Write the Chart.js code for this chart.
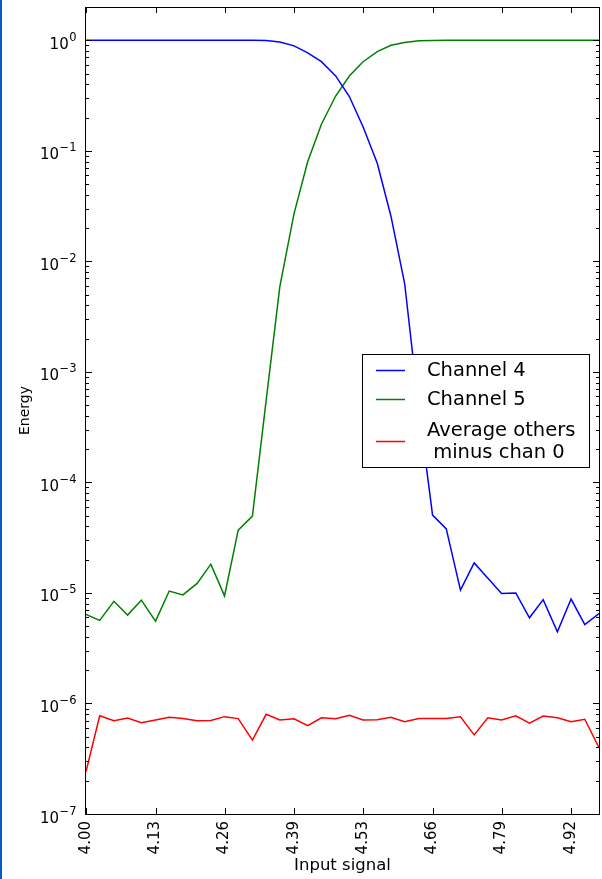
<!DOCTYPE html>
<html>
<head>
<meta charset="utf-8">
<script src="https://cdn.jsdelivr.net/npm/chart.js@4/dist/chart.umd.min.js"></script>
<style>
  html, body { margin: 0; padding: 0; background: #fff; }
  #wrap { position: relative; width: 602px; height: 879px; }
  #edge { position: absolute; left: 0; top: 0; width: 2px; height: 879px; background: #0b57c8; }
</style>
</head>
<body>
<div id="wrap">
  <canvas id="energyChart" width="602" height="879"></canvas>
  <div id="edge"></div>
</div>
<script>
// input signal values (x), one per sample
const inputSignal = [4.000, 4.026, 4.053, 4.079, 4.105, 4.132, 4.158, 4.184, 4.211, 4.237,
    4.263, 4.289, 4.316, 4.342, 4.368, 4.395, 4.421, 4.447, 4.474, 4.500,
    4.526, 4.553, 4.579, 4.605, 4.632, 4.658, 4.684, 4.711, 4.737, 4.763,
    4.789, 4.816, 4.842, 4.868, 4.895, 4.921, 4.947, 4.974];

const channel4 = [1.0, 1.0, 1.0, 1.0, 1.0, 1.0, 1.0, 1.0, 1.0, 1.0,
    1.0, 1.0, 0.999, 0.995, 0.966, 0.89, 0.77, 0.64, 0.476, 0.31,
    0.165, 0.077, 0.0256, 0.0063, 4.6e-4, 5.06e-5, 3.8e-5, 1.06e-5, 1.87e-5, 1.36e-5,
    9.9e-6, 1.0e-5, 5.96e-6, 8.7e-6, 4.45e-6, 8.8e-6, 5.18e-6, 6.5e-6];

const channel5 = [6.4e-6, 5.65e-6, 8.4e-6, 6.3e-6, 8.6e-6, 5.56e-6, 1.04e-5, 9.6e-6, 1.22e-5, 1.82e-5,
    9.4e-6, 3.7e-5, 4.95e-5, 5.5e-4, 5.9e-3, 0.027, 0.080, 0.174, 0.313, 0.475,
    0.64, 0.79, 0.90, 0.955, 0.99, 0.997, 1.0, 1.0, 1.0, 1.0,
    1.0, 1.0, 1.0, 1.0, 1.0, 1.0, 1.0, 1.0];

const avgOthers = [2.42e-7, 7.74e-7, 6.98e-7, 7.38e-7, 6.7e-7, 7.08e-7, 7.5e-7, 7.3e-7, 6.98e-7, 7.0e-7,
    7.6e-7, 7.3e-7, 4.66e-7, 7.98e-7, 7.08e-7, 7.27e-7, 6.3e-7, 7.43e-7, 7.28e-7, 7.8e-7,
    7.08e-7, 7.13e-7, 7.5e-7, 6.84e-7, 7.3e-7, 7.3e-7, 7.3e-7, 7.57e-7, 5.2e-7, 7.43e-7,
    7.08e-7, 7.74e-7, 6.65e-7, 7.7e-7, 7.43e-7, 6.84e-7, 7.2e-7, 3.98e-7];

const xTickValues = [4.000, 4.132, 4.263, 4.395, 4.526, 4.658, 4.789, 4.921];
const xTickLabels = ["4.00", "4.13", "4.26", "4.39", "4.53", "4.66", "4.79", "4.92"];
const yTickValues = [1e-7, 1e-6, 1e-5, 1e-4, 1e-3, 1e-2, 1e-1, 1e0];

const seriesLabels = [["Channel 4"], ["Channel 5"], ["Average others", " minus chan 0"]];
const seriesColors = ["#0000ff", "#008000", "#ff0000"];

const FONT = "'DejaVu Sans', 'Liberation Sans', sans-serif";
Chart.defaults.font.family = FONT;
Chart.defaults.color = "#000";

function toPoints(values) {
    return inputSignal.map((x, i) => ({x: x, y: values[i]}));
}

// frame, inward ticks, 10^n labels and the legend box
const framePlugin = {
    id: "frame",
    afterDatasetsDraw(chart) {
        const {ctx, chartArea: a, scales: {x, y}} = chart;
        ctx.save();
        ctx.strokeStyle = "#000";
        ctx.lineWidth = 1;
        ctx.beginPath();
        xTickValues.forEach(v => {
            const px = Math.round(x.getPixelForValue(v)) + 0.5;
            ctx.moveTo(px, a.bottom); ctx.lineTo(px, a.bottom - 6);
            ctx.moveTo(px, a.top); ctx.lineTo(px, a.top + 6);
        });
        for (let e = -7; e <= 0; e++) {
            for (let m = 1; m <= 9; m++) {
                const v = m * Math.pow(10, e);
                if (v > y.max) break;
                const py = Math.round(y.getPixelForValue(v)) + 0.5;
                const len = m === 1 ? 6 : 3;
                ctx.moveTo(a.left, py); ctx.lineTo(a.left + len, py);
                ctx.moveTo(a.right, py); ctx.lineTo(a.right - len, py);
            }
        }
        ctx.stroke();
        ctx.strokeRect(Math.round(a.left) - 0.5, Math.round(a.top) + 0.5,
            Math.round(a.right - a.left) + 1, Math.round(a.bottom - a.top));

        // y tick labels as 10 with a raised exponent
        ctx.fillStyle = "#000";
        ctx.textBaseline = "alphabetic";
        ctx.textAlign = "left";
        yTickValues.forEach(v => {
            const py = y.getPixelForValue(v);
            const exp = String(Math.round(Math.log10(v))).replace("-", "\u2212");
            ctx.font = "15px " + FONT;
            const wb = ctx.measureText("10").width;
            ctx.font = "11.5px " + FONT;
            const we = ctx.measureText(exp).width;
            const x0 = a.left - 10 - wb - we;
            ctx.font = "15px " + FONT;
            ctx.fillText("10", x0, py + 8.5);
            ctx.font = "11.5px " + FONT;
            ctx.fillText(exp, x0 + wb + 0.5, py + 0.5);
        });
        ctx.restore();
    },
    afterDraw(chart) {
        const ctx = chart.ctx;
        const box = {x: 362.5, y: 354.5, w: 227, h: 113};
        const rows = [370.5, 399.5, 441.5];
        ctx.save();
        ctx.fillStyle = "#fff";
        ctx.fillRect(box.x, box.y, box.w, box.h);
        ctx.strokeStyle = "#000";
        ctx.lineWidth = 1;
        ctx.strokeRect(box.x, box.y, box.w, box.h);
        ctx.font = "19.5px " + FONT;
        ctx.textBaseline = "middle";
        ctx.textAlign = "left";
        seriesLabels.forEach((lines, i) => {
            ctx.strokeStyle = seriesColors[i];
            ctx.lineWidth = 1.5;
            ctx.beginPath();
            ctx.moveTo(376, rows[i]); ctx.lineTo(405, rows[i]);
            ctx.stroke();
            ctx.fillStyle = "#000";
            const lh = 22;
            const y0 = rows[i] - (lines.length - 1) * lh / 2;
            lines.forEach((t, k) => ctx.fillText(t, 427, y0 + k * lh));
        });
        ctx.restore();
    }
};

new Chart(document.getElementById("energyChart"), {
    type: "line",
    data: {
        datasets: seriesLabels.map((lab, i) => ({
            label: lab.join(" ").trim(),
            data: toPoints([channel4, channel5, avgOthers][i]),
            borderColor: seriesColors[i],
            borderWidth: 1.5,
            pointRadius: 0,
            fill: false,
            tension: 0
        }))
    },
    options: {
        responsive: false,
        animation: false,
        devicePixelRatio: 1,
        layout: {padding: {left: 0, top: 7, right: 3, bottom: 0}},
        plugins: {legend: {display: false}, tooltip: {enabled: false}},
        scales: {
            x: {
                type: "linear",
                min: inputSignal[0],
                max: inputSignal[inputSignal.length - 1],
                grid: {display: false, drawTicks: false},
                border: {display: false},
                afterBuildTicks: s => { s.ticks = xTickValues.map(v => ({value: v})); },
                afterFit: s => { s.height = 65; s.paddingLeft = 0; s.paddingRight = 0; },
                ticks: {
                    minRotation: 90, maxRotation: 90, padding: 7, autoSkip: false,
                    font: {size: 15},
                    callback: (v, i) => xTickLabels[i]
                },
                title: {display: true, text: "Input signal", font: {size: 16.5}, padding: {top: 0, bottom: 3}}
            },
            y: {
                type: "logarithmic",
                min: 1e-7,
                max: 2,
                grid: {display: false, drawTicks: false},
                border: {display: false},
                afterBuildTicks: s => { s.ticks = yTickValues.map(v => ({value: v})); },
                afterFit: s => { s.width = 86; s.paddingTop = 0; s.paddingBottom = 0; },
                ticks: {display: false},
                title: {display: true, text: "Energy", font: {size: 14}, padding: {top: 17, bottom: 0}}
            }
        }
    },
    plugins: [framePlugin]
});
</script>
</body>
</html>
